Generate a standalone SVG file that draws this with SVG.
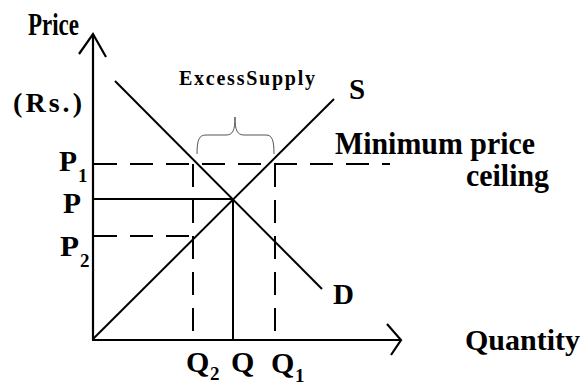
<svg xmlns="http://www.w3.org/2000/svg" width="582" height="386" viewBox="0 0 582 386">
<style>
.ln{stroke:#000;stroke-width:2;fill:none;stroke-linecap:butt}
.ax{stroke:#000;stroke-width:2.2;fill:none}
.ds{stroke:#000;stroke-width:2;fill:none;stroke-dasharray:23 13}
text{font-family:'Liberation Serif',serif;font-weight:700;font-size:30px;fill:#000}
.sub{font-size:19px}
</style>
<rect width="582" height="386" fill="#fff"/>
<g id="axes">
<line class="ax" x1="93" y1="34" x2="93" y2="340"/>
<polyline class="ax" points="79,54 93,34 106,57"/>
<line class="ax" x1="92" y1="340" x2="401" y2="340"/>
<polyline class="ax" points="387,324 401,340 391,355"/>
</g>
<g id="guides">
<line class="ds" x1="94" y1="164" x2="390" y2="164"/>
<line class="ds" x1="94" y1="236" x2="196" y2="236"/>
<line class="ds" x1="193" y1="164" x2="193" y2="339"/>
<line class="ds" x1="275" y1="164" x2="275" y2="339"/>
<line class="ln" x1="93" y1="199" x2="233" y2="199"/>
<line class="ln" x1="233" y1="199" x2="233" y2="339"/>
</g>
<g id="curves">
<line class="ln" x1="115" y1="81" x2="322" y2="289"/>
<line class="ln" x1="93" y1="339" x2="334" y2="99"/>
<path d="M197,154 C197,140 199,135 206,135 L226,135 C233,135 235,130 235,117 C235,130 237,135 244,135 L266,135 C272,135 274,140 274,154" fill="none" stroke="#555" stroke-width="1"/>
</g>
<g id="labels">
<text x="28" y="35" style="font-size:31px" textLength="51" lengthAdjust="spacingAndGlyphs">Price</text>
<text x="13" y="112" style="font-size:28px" textLength="69" lengthAdjust="spacing">(Rs.)</text>
<text x="179" y="85" style="font-size:20px" textLength="136" lengthAdjust="spacing">ExcessSupply</text>
<text x="349" y="99" style="font-size:29px">S</text>
<text x="335" y="154" style="font-size:31px" textLength="200" lengthAdjust="spacingAndGlyphs">Minimum price</text>
<text x="466" y="186" style="font-size:31px" textLength="83" lengthAdjust="spacingAndGlyphs">ceiling</text>
<text x="59" y="171" textLength="18" lengthAdjust="spacingAndGlyphs">P</text><text class="sub" x="78" y="182">1</text>
<text x="63" y="213" textLength="18" lengthAdjust="spacingAndGlyphs">P</text>
<text x="60" y="256" textLength="19" lengthAdjust="spacingAndGlyphs">P</text><text class="sub" x="80" y="267">2</text>
<text x="333" y="304" style="font-size:29px">D</text>
<text x="465" y="350" textLength="115" lengthAdjust="spacingAndGlyphs">Quantity</text>
<text x="186" y="372">Q</text><text class="sub" x="210" y="380">2</text>
<text x="231" y="372">Q</text>
<text x="271" y="373">Q</text><text class="sub" x="295" y="382">1</text>
</g>
</svg>
